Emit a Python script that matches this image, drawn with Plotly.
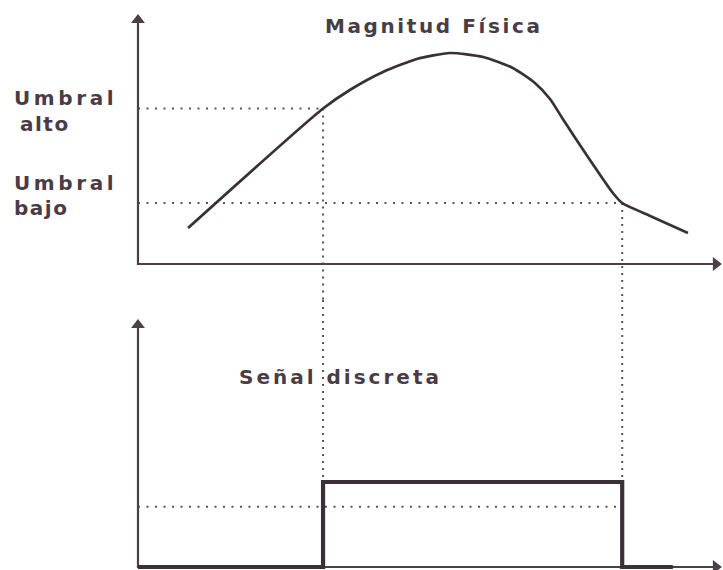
import plotly.graph_objects as go

# ---------------- data ----------------
# Physical magnitude over time (top panel)
time_curve = [0.86, 3.18, 3.64, 4.21, 4.79, 5.36, 5.93, 6.44, 6.82, 7.08, 7.30, 7.72, 8.16, 8.32, 8.80, 9.45]
magnitude = [1.44, 6.22, 6.96, 7.68, 8.20, 8.44, 8.28, 7.84, 7.24, 6.60, 5.80, 4.32, 2.84, 2.44, 1.92, 1.24]

umbral_alto = 6.22
umbral_bajo = 2.44
t_on = 3.18
t_off = 8.32

# Discrete signal (bottom panel)
time_signal = [0.0, t_on, t_on, t_off, t_off, 9.19]
signal = [0, 0, 1, 1, 0, 0]
nivel_ref = 0.71

# axis extents (arrow heads)
t_axis_end = 9.93
v_axis_end = 9.76
s_axis_end = 2.847

labels_top = ["Umbral", "alto", "Umbral", "bajo"]
title_top = "Magnitud Física"
title_bottom = "Señal discreta"

# ---------------- styling ----------------
W, H = 723, 570
XR = [-2.371, 10.052]
YR_TOP = [-1.44, 10.56]
YR_BOT = [-0.0353, 3.141]
SPLIT = 1 - 300 / H

INK = "#3a3036"
AXIS = "#4a4046"
DOT = "#5a5258"
TEXT = "#4a3c46"
FONT = "DejaVu Sans"

fig = go.Figure()

def line(x, y, yaxis, color, width, dash="solid", shape="linear"):
    fig.add_trace(go.Scatter(x=x, y=y, yaxis=yaxis, mode="lines",
                             line=dict(color=color, width=width, dash=dash, shape=shape,
                                       smoothing=0.6 if shape == "spline" else None),
                             hoverinfo="skip", showlegend=False))

def head(x, y, yaxis, symbol):
    fig.add_trace(go.Scatter(x=[x], y=[y], yaxis=yaxis, mode="markers",
                             marker=dict(symbol=symbol, size=12, color=AXIS,
                                         line=dict(width=0)),
                             cliponaxis=False, hoverinfo="skip", showlegend=False))

dot_h = "2px,6.5px"
dot_v = "2px,5px"

# threshold / projection guides
line([0, t_on], [umbral_alto, umbral_alto], "y", DOT, 2, dot_h)
line([0, t_off], [umbral_bajo, umbral_bajo], "y", DOT, 2, dot_h)
line([t_on, t_on], [umbral_alto, YR_TOP[0]], "y", DOT, 2, dot_v)
line([t_off, t_off], [umbral_bajo, YR_TOP[0]], "y", DOT, 2, dot_v)
line([t_on, t_on], [YR_BOT[1], 1], "y2", DOT, 2, dot_v)
line([t_off, t_off], [YR_BOT[1], 1], "y2", DOT, 2, dot_v)
line([0, t_off], [nivel_ref, nivel_ref], "y2", DOT, 2, dot_h)

# axes with arrow heads
line([0, 0, t_axis_end], [v_axis_end, 0, 0], "y", AXIS, 2.2)
line([0, 0, t_axis_end], [s_axis_end, 0, 0], "y2", AXIS, 2.2)
head(0, v_axis_end, "y", "triangle-up")
head(t_axis_end, 0, "y", "triangle-right")
head(0, s_axis_end, "y2", "triangle-up")
head(t_axis_end, 0, "y2", "triangle-right")

# physical magnitude curve
line(time_curve, magnitude, "y", INK, 2.7, shape="spline")
# discrete signal
line(time_signal, signal, "y2", INK, 4.2)

def label(text, x, y, xanchor="left", size=20, ls=2):
    fig.add_annotation(x=x / W, y=1 - y / H, xref="paper", yref="paper",
                       text=f'<span style="letter-spacing:{ls}px"><b>{text}</b></span>',
                       showarrow=False, xanchor=xanchor, yanchor="middle",
                       font=dict(family=FONT, size=size, color=TEXT))

label(title_top, 434, 26, "center", ls=2.6)
label(labels_top[0], 12, 98, ls=3.6)
label(labels_top[1], 18, 124, ls=1.5)
label(labels_top[2], 12, 183, ls=3.6)
label(labels_top[3], 12, 208, ls=1.5)
label(title_bottom, 340, 377, "center", ls=3.0)

hidden = dict(visible=False, showgrid=False, zeroline=False, fixedrange=True)
fig.update_layout(
    width=W, height=H,
    margin=dict(l=0, r=0, t=0, b=0),
    paper_bgcolor="white", plot_bgcolor="white",
    xaxis=dict(range=XR, domain=[0, 1], **hidden),
    yaxis=dict(range=YR_TOP, domain=[SPLIT, 1], **hidden),
    yaxis2=dict(range=YR_BOT, domain=[0, SPLIT], **hidden),
    showlegend=False,
)

fig.write_html("out.html",
               config={"displayModeBar": False, "staticPlot": True},
               post_script="document.body.style.margin='0';"
                           "document.body.style.overflow='hidden';"
                           "document.documentElement.style.overflow='hidden';")
